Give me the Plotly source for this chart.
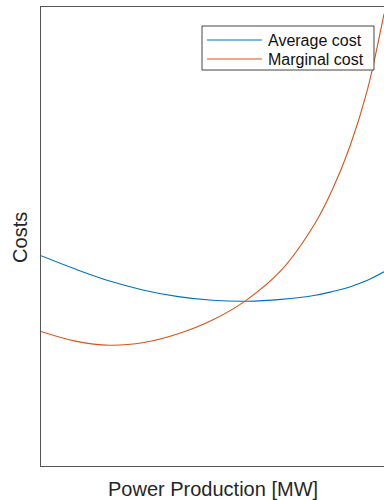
import plotly.graph_objects as go

# Power production levels [MW] and the costs read at each level
production_avg = [0, 10, 20, 30, 40, 50, 60, 70, 80, 85, 90, 95, 100]
average_cost = [45.8, 42.9, 40.3, 38.3, 36.9, 36.1, 35.9, 36.3, 37.2, 38.0,
                39.0, 40.4, 42.3]

production_mc = [0, 10, 20, 30, 40, 50, 60, 70, 80, 85, 90, 95, 100]
marginal_cost = [29.3, 27.2, 26.3, 26.9, 28.8, 31.8, 36.2, 42.6, 53.0, 60.3,
                 69.5, 81.5, 98.5]

series_names = ["Average cost", "Marginal cost"]
series_colors = ["#0072BD", "#D95319"]

AXIS = "#555555"
FONT = "Liberation Sans, Arial, sans-serif"

fig = go.Figure()
for name, color, xs, ys in zip(series_names, series_colors,
                               [production_avg, production_mc],
                               [average_cost, marginal_cost]):
    fig.add_trace(go.Scatter(x=xs, y=ys, mode="lines", name=name,
                             showlegend=False,
                             line=dict(color=color, width=1.1, shape="spline")))

# Boxed legend in the upper right corner of the axes
shapes = [dict(type="rect", xref="paper", yref="paper",
               x0=0.4694, x1=0.9708, y0=0.8627, y1=0.9586,
               line=dict(color="#444444", width=1), fillcolor="white",
               layer="above")]
annotations = []
row_y = [0.9281, 0.8867]
for name, color, y in zip(series_names, series_colors, row_y):
    shapes.append(dict(type="line", xref="paper", yref="paper",
                       x0=0.4840, x1=0.6443, y0=y, y1=y,
                       line=dict(color=color, width=1.1), layer="above"))
    annotations.append(dict(text=name, xref="paper", yref="paper",
                            x=0.655, y=y, xanchor="left", yanchor="middle",
                            showarrow=False,
                            font=dict(size=16, color="#111111", family=FONT)))

annotations += [
    dict(text="Power Production [MW]", xref="paper", yref="paper",
         x=0.5, y=-0.05, xanchor="center", yanchor="middle",
         showarrow=False, font=dict(size=20, color="#262626", family=FONT)),
    dict(text="Costs", xref="paper", yref="paper",
         x=-0.0612, y=0.497, xanchor="center", yanchor="middle",
         textangle=-90, showarrow=False,
         font=dict(size=20, color="#262626", family=FONT)),
]

fig.update_layout(
    width=384, height=500,
    margin=dict(l=41, r=0, t=7, b=34),
    paper_bgcolor="white", plot_bgcolor="white",
    font=dict(family=FONT, color="#262626"),
    showlegend=False,
    xaxis=dict(range=[0, 100], showticklabels=False, ticks="",
               showgrid=False, zeroline=False, showline=True,
               linecolor=AXIS, linewidth=1, mirror=True),
    yaxis=dict(range=[0, 100], showticklabels=False, ticks="",
               showgrid=False, zeroline=False, showline=True,
               linecolor=AXIS, linewidth=1, mirror=False),
    shapes=shapes,
    annotations=annotations,
)

fig.write_html("out.html")
